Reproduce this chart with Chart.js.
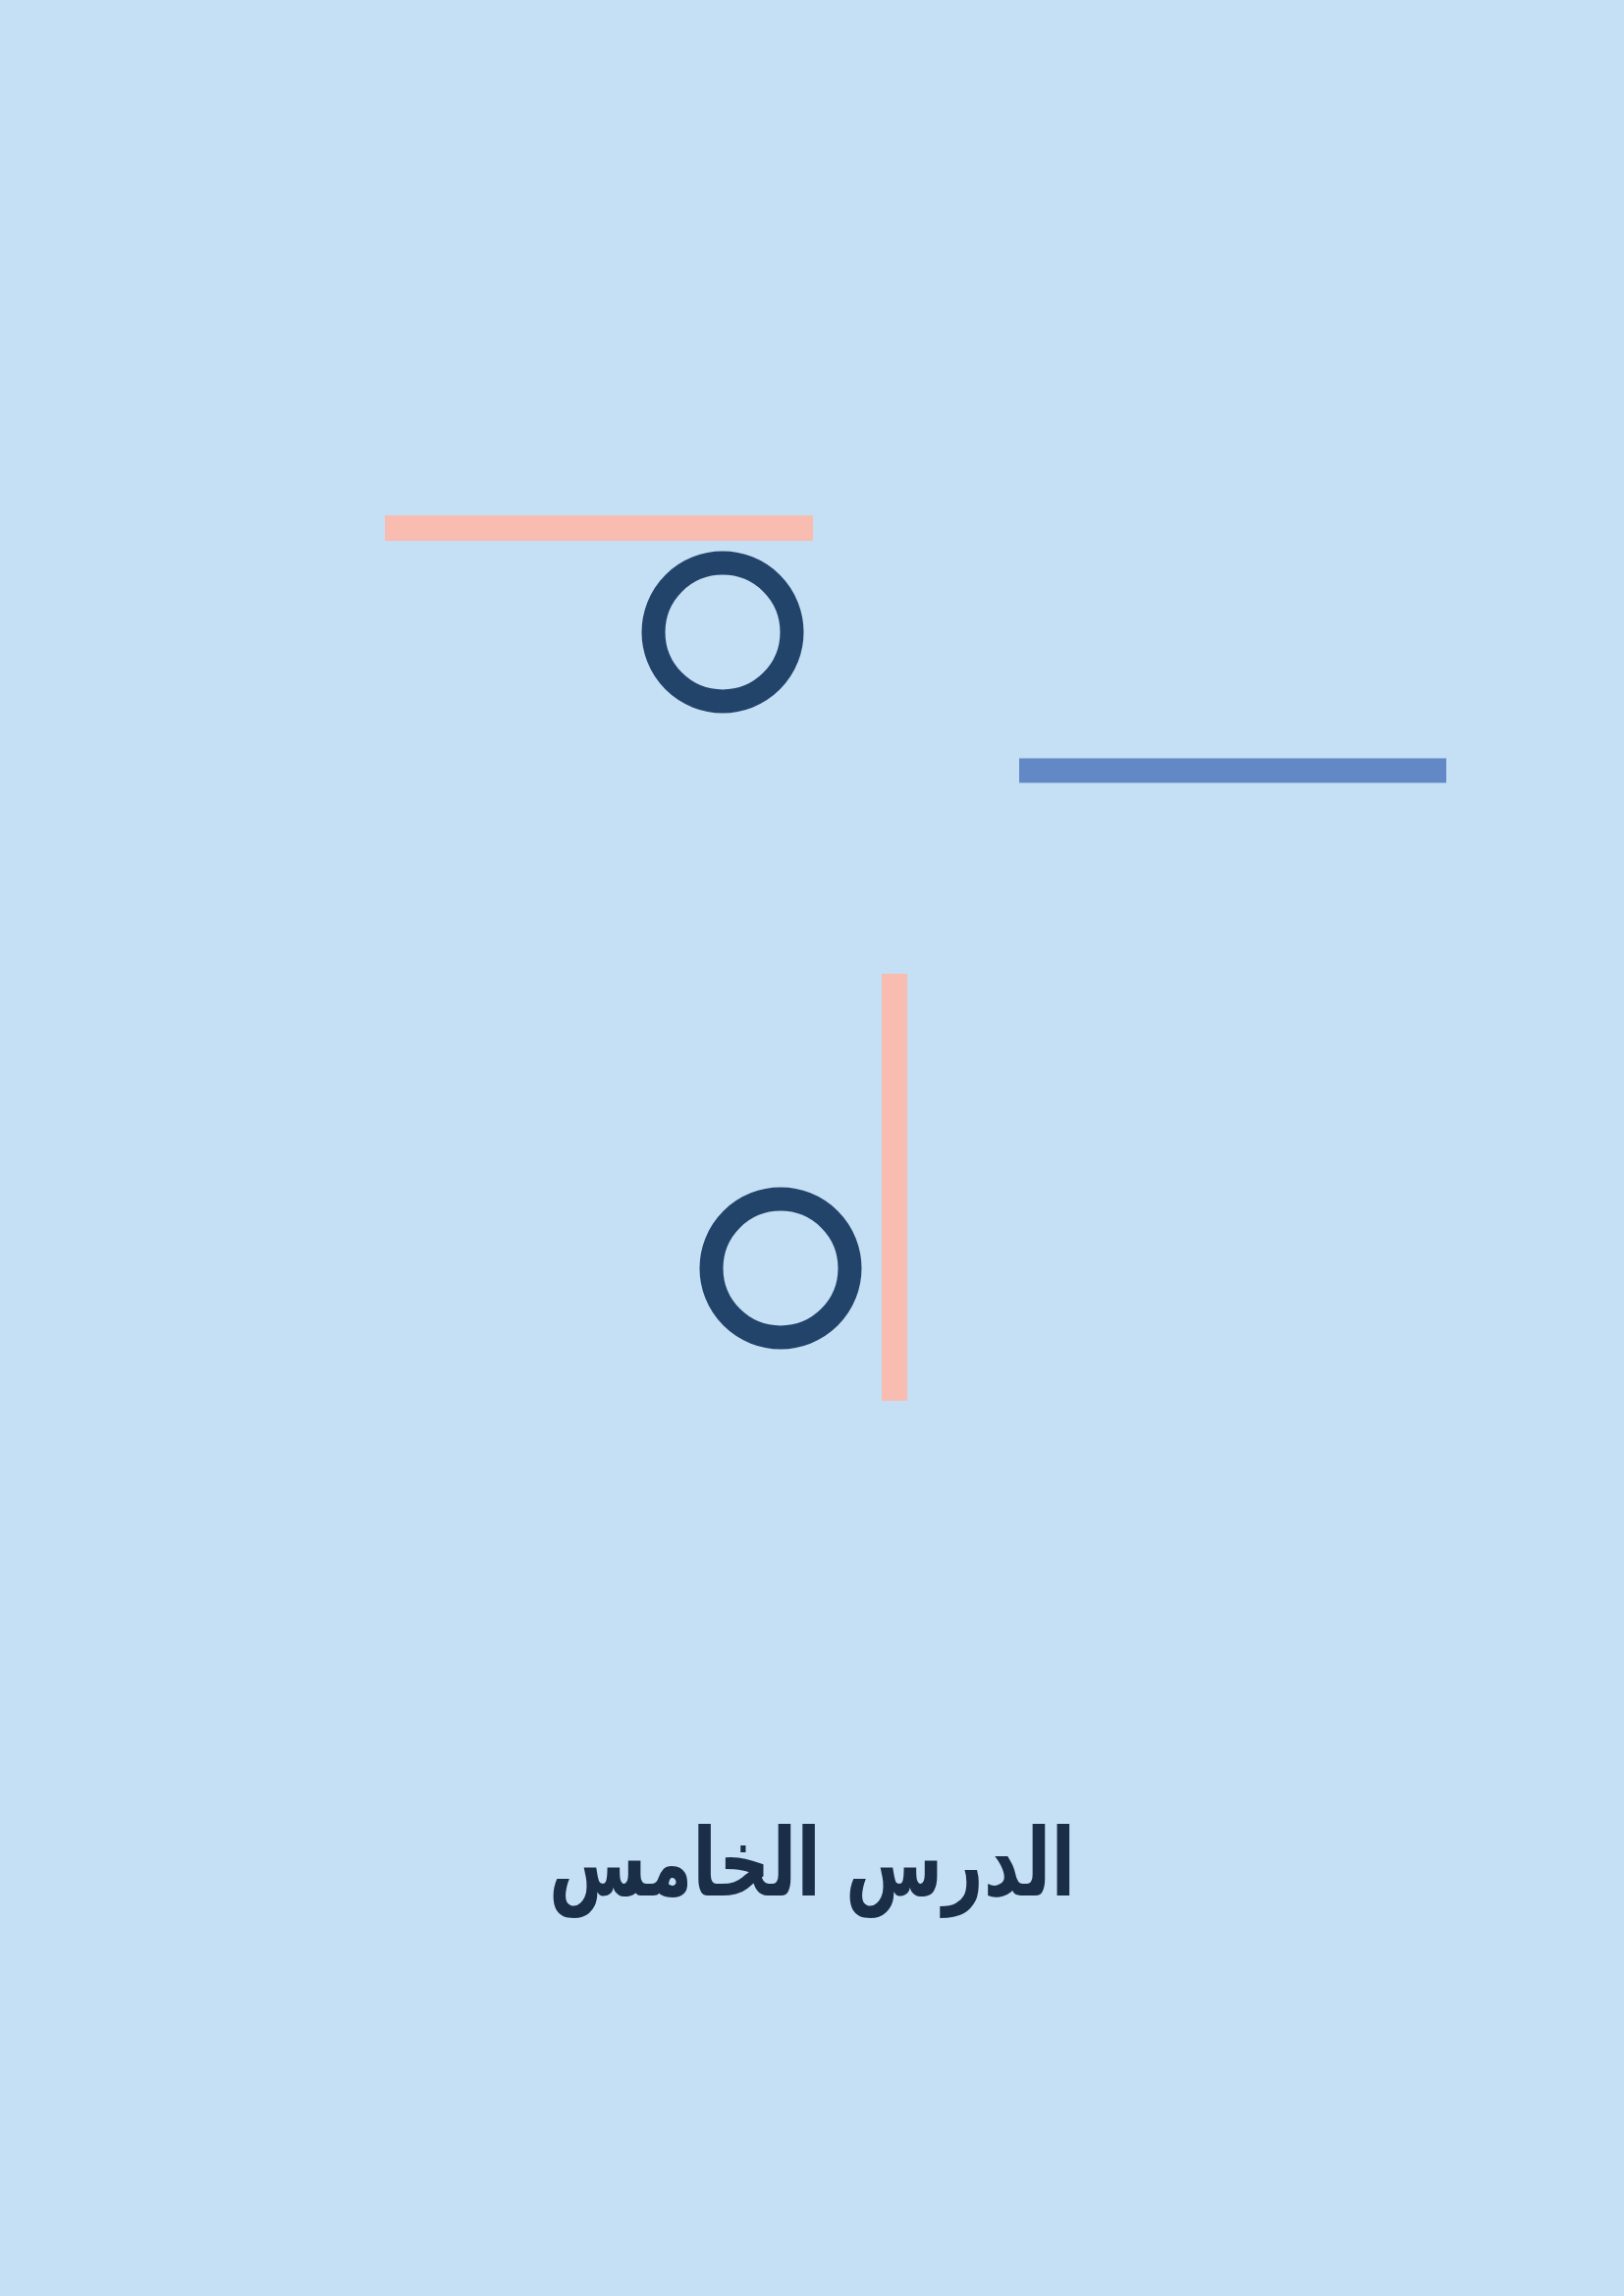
<!DOCTYPE html>
<html lang="ar">
<head>
<meta charset="utf-8">
<title>الدرس الخامس</title>
<script src="https://cdn.jsdelivr.net/npm/chart.js@4.4.1/dist/chart.umd.min.js"></script>
<style>
  html, body { margin: 0; padding: 0; background: #c5e0f4; }
  #page { position: relative; width: 1654px; height: 2339px; overflow: hidden; }
  #shapes { position: absolute; left: 0; top: 0; }
  #title {
    position: absolute; left: 0; width: 1654px; top: 1841px;
    text-align: center; direction: rtl;
    font-family: "DejaVu Sans", sans-serif; font-weight: bold;
    font-size: 96px; line-height: 1.2; color: #1b2e48;
    transform: scaleX(0.75); transform-origin: 827px 0;
  }
</style>
</head>
<body>
<div id="page">
  <canvas id="shapes" width="1654" height="2339"></canvas>
  <div id="title">الدرس الخامس</div>
</div>
<script>
// page units = reference pixels
var pageWidth = 1654;
var pageHeight = 2339;

// bars: start and end points
var topBar = [{x: 392, y: 538}, {x: 828, y: 538}];
var rightBar = [{x: 1038, y: 785}, {x: 1473, y: 785}];
var sideBar = [{x: 911, y: 992}, {x: 911, y: 1427}];

// ring centres
var rings = [{x: 736, y: 644}, {x: 795, y: 1292}];

function bar(points, color, width) {
    return {
        type: 'line',
        data: points,
        borderColor: color,
        borderWidth: width,
        borderCapStyle: 'butt',
        pointRadius: 0,
        fill: false
    };
}

var ctx = document.getElementById('shapes').getContext('2d');
var chart = new Chart(ctx, {
    type: 'scatter',
    data: {
        datasets: [
            bar(topBar, '#f8bdb0', 26),
            bar(rightBar, '#6388c6', 25),
            bar(sideBar, '#f8bdb0', 26),
            {
                data: rings,
                pointRadius: 70.5,
                pointBorderWidth: 24,
                pointBorderColor: '#23446a',
                pointBackgroundColor: 'rgba(0,0,0,0)'
            }
        ]
    },
    options: {
        responsive: false,
        animation: false,
        devicePixelRatio: 1,
        events: [],
        clip: false,
        layout: { padding: 0, autoPadding: false },
        plugins: { legend: { display: false }, tooltip: { enabled: false } },
        scales: {
            x: { type: 'linear', min: 0, max: pageWidth, display: false },
            y: { type: 'linear', min: 0, max: pageHeight, reverse: true, display: false }
        }
    }
});
</script>
</body>
</html>
